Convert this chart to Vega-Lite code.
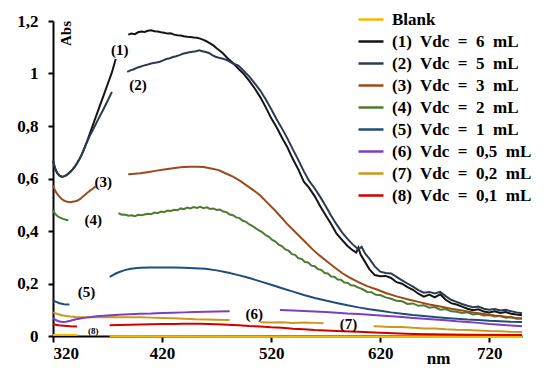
{
  "$schema": "https://vega.github.io/schema/vega-lite/v6.json",
  "autosize": "none",
  "width": 469,
  "height": 315,
  "padding": {"left": 53, "top": 21, "right": 22, "bottom": 35},
  "background": "white",
  "config": {
    "view": {"stroke": null},
    "font": "Liberation Serif, Times New Roman, DejaVu Serif, serif",
    "axis": {
      "grid": false,
      "domainColor": "black",
      "domainWidth": 2,
      "tickColor": "black",
      "tickWidth": 2,
      "labelFont": "Liberation Serif, Times New Roman, DejaVu Serif, serif",
      "labelFontWeight": "bold",
      "labelColor": "black",
      "titleFont": "Liberation Serif, Times New Roman, DejaVu Serif, serif",
      "titleFontWeight": "bold",
      "titleColor": "black",
      "zindex": 1
    },
    "legend": {
      "orient": "none",
      "legendX": 304,
      "legendY": -15.5,
      "symbolType": "stroke",
      "symbolSize": 625,
      "symbolStrokeWidth": 2.5,
      "labelFont": "Liberation Serif, Times New Roman, DejaVu Serif, serif",
      "labelFontWeight": "bold",
      "labelFontSize": 17,
      "labelColor": "black",
      "labelOffset": 7,
      "labelLimit": 300,
      "rowPadding": -4.1
    }
  },
  "layer": [
    {
      "data": {
        "values": [
          {"s": "0", "g": "a", "x": 320, "y": 0.004}, {"s": "0", "g": "a", "x": 342, "y": 0.004},
          {"s": "0", "g": "b", "x": 372, "y": -0.001}, {"s": "0", "g": "b", "x": 500, "y": -0.003}, {"s": "0", "g": "b", "x": 750, "y": -0.004},

          {"s": "8", "g": "a", "x": 320, "y": 0.045}, {"s": "8", "g": "a", "x": 325, "y": 0.041}, {"s": "8", "g": "a", "x": 330, "y": 0.039}, {"s": "8", "g": "a", "x": 336, "y": 0.037}, {"s": "8", "g": "a", "x": 342, "y": 0.036},
          {"s": "8", "g": "b", "x": 372, "y": 0.041}, {"s": "8", "g": "b", "x": 380, "y": 0.042}, {"s": "8", "g": "b", "x": 390, "y": 0.043}, {"s": "8", "g": "b", "x": 400, "y": 0.044}, {"s": "8", "g": "b", "x": 410, "y": 0.045}, {"s": "8", "g": "b", "x": 420, "y": 0.046}, {"s": "8", "g": "b", "x": 430, "y": 0.046}, {"s": "8", "g": "b", "x": 440, "y": 0.047}, {"s": "8", "g": "b", "x": 455, "y": 0.047}, {"s": "8", "g": "b", "x": 470, "y": 0.045}, {"s": "8", "g": "b", "x": 480, "y": 0.043}, {"s": "8", "g": "b", "x": 490, "y": 0.041}, {"s": "8", "g": "b", "x": 500, "y": 0.038}, {"s": "8", "g": "b", "x": 510, "y": 0.036}, {"s": "8", "g": "b", "x": 520, "y": 0.033}, {"s": "8", "g": "b", "x": 530, "y": 0.031}, {"s": "8", "g": "b", "x": 540, "y": 0.028}, {"s": "8", "g": "b", "x": 550, "y": 0.026}, {"s": "8", "g": "b", "x": 560, "y": 0.023}, {"s": "8", "g": "b", "x": 580, "y": 0.019}, {"s": "8", "g": "b", "x": 600, "y": 0.016}, {"s": "8", "g": "b", "x": 620, "y": 0.012}, {"s": "8", "g": "b", "x": 650, "y": 0.008}, {"s": "8", "g": "b", "x": 700, "y": 0.005}, {"s": "8", "g": "b", "x": 750, "y": 0.004},

          {"s": "7", "g": "a", "x": 320, "y": 0.09}, {"s": "7", "g": "a", "x": 324, "y": 0.084}, {"s": "7", "g": "a", "x": 328, "y": 0.079}, {"s": "7", "g": "a", "x": 332, "y": 0.076}, {"s": "7", "g": "a", "x": 336, "y": 0.074}, {"s": "7", "g": "a", "x": 341, "y": 0.072}, {"s": "7", "g": "a", "x": 350, "y": 0.071}, {"s": "7", "g": "a", "x": 360, "y": 0.071}, {"s": "7", "g": "a", "x": 370, "y": 0.072}, {"s": "7", "g": "a", "x": 380, "y": 0.071}, {"s": "7", "g": "a", "x": 390, "y": 0.071}, {"s": "7", "g": "a", "x": 400, "y": 0.071}, {"s": "7", "g": "a", "x": 410, "y": 0.07}, {"s": "7", "g": "a", "x": 420, "y": 0.069}, {"s": "7", "g": "a", "x": 430, "y": 0.068}, {"s": "7", "g": "a", "x": 440, "y": 0.066}, {"s": "7", "g": "a", "x": 450, "y": 0.064}, {"s": "7", "g": "a", "x": 460, "y": 0.063}, {"s": "7", "g": "a", "x": 470, "y": 0.062}, {"s": "7", "g": "a", "x": 482, "y": 0.061},
          {"s": "7", "g": "b", "x": 510, "y": 0.052}, {"s": "7", "g": "b", "x": 520, "y": 0.051}, {"s": "7", "g": "b", "x": 530, "y": 0.052}, {"s": "7", "g": "b", "x": 540, "y": 0.05}, {"s": "7", "g": "b", "x": 550, "y": 0.051}, {"s": "7", "g": "b", "x": 560, "y": 0.05}, {"s": "7", "g": "b", "x": 568, "y": 0.049},
          {"s": "7", "g": "c", "x": 614, "y": 0.037}, {"s": "7", "g": "c", "x": 620, "y": 0.036}, {"s": "7", "g": "c", "x": 630, "y": 0.034}, {"s": "7", "g": "c", "x": 640, "y": 0.034}, {"s": "7", "g": "c", "x": 650, "y": 0.031}, {"s": "7", "g": "c", "x": 660, "y": 0.029}, {"s": "7", "g": "c", "x": 670, "y": 0.029}, {"s": "7", "g": "c", "x": 680, "y": 0.026}, {"s": "7", "g": "c", "x": 690, "y": 0.024}, {"s": "7", "g": "c", "x": 700, "y": 0.023}, {"s": "7", "g": "c", "x": 710, "y": 0.021}, {"s": "7", "g": "c", "x": 720, "y": 0.019}, {"s": "7", "g": "c", "x": 730, "y": 0.018}, {"s": "7", "g": "c", "x": 740, "y": 0.016}, {"s": "7", "g": "c", "x": 750, "y": 0.015},

          {"s": "6", "g": "a", "x": 320, "y": 0.068}, {"s": "6", "g": "a", "x": 323, "y": 0.06}, {"s": "6", "g": "a", "x": 326, "y": 0.055}, {"s": "6", "g": "a", "x": 329, "y": 0.053}, {"s": "6", "g": "a", "x": 332, "y": 0.054}, {"s": "6", "g": "a", "x": 336, "y": 0.058}, {"s": "6", "g": "a", "x": 340, "y": 0.063}, {"s": "6", "g": "a", "x": 345, "y": 0.067}, {"s": "6", "g": "a", "x": 350, "y": 0.07}, {"s": "6", "g": "a", "x": 355, "y": 0.072}, {"s": "6", "g": "a", "x": 360, "y": 0.075}, {"s": "6", "g": "a", "x": 370, "y": 0.078}, {"s": "6", "g": "a", "x": 380, "y": 0.081}, {"s": "6", "g": "a", "x": 390, "y": 0.083}, {"s": "6", "g": "a", "x": 400, "y": 0.085}, {"s": "6", "g": "a", "x": 410, "y": 0.086}, {"s": "6", "g": "a", "x": 420, "y": 0.088}, {"s": "6", "g": "a", "x": 430, "y": 0.089}, {"s": "6", "g": "a", "x": 440, "y": 0.09}, {"s": "6", "g": "a", "x": 450, "y": 0.091}, {"s": "6", "g": "a", "x": 460, "y": 0.092}, {"s": "6", "g": "a", "x": 470, "y": 0.093}, {"s": "6", "g": "a", "x": 482, "y": 0.094},
          {"s": "6", "g": "b", "x": 528, "y": 0.099}, {"s": "6", "g": "b", "x": 540, "y": 0.097}, {"s": "6", "g": "b", "x": 550, "y": 0.095}, {"s": "6", "g": "b", "x": 560, "y": 0.093}, {"s": "6", "g": "b", "x": 570, "y": 0.091}, {"s": "6", "g": "b", "x": 580, "y": 0.089}, {"s": "6", "g": "b", "x": 590, "y": 0.086}, {"s": "6", "g": "b", "x": 600, "y": 0.084}, {"s": "6", "g": "b", "x": 610, "y": 0.081}, {"s": "6", "g": "b", "x": 620, "y": 0.078}, {"s": "6", "g": "b", "x": 630, "y": 0.075}, {"s": "6", "g": "b", "x": 640, "y": 0.072}, {"s": "6", "g": "b", "x": 650, "y": 0.069}, {"s": "6", "g": "b", "x": 660, "y": 0.066}, {"s": "6", "g": "b", "x": 670, "y": 0.063}, {"s": "6", "g": "b", "x": 680, "y": 0.06}, {"s": "6", "g": "b", "x": 690, "y": 0.056}, {"s": "6", "g": "b", "x": 700, "y": 0.053}, {"s": "6", "g": "b", "x": 710, "y": 0.05}, {"s": "6", "g": "b", "x": 720, "y": 0.046}, {"s": "6", "g": "b", "x": 730, "y": 0.043}, {"s": "6", "g": "b", "x": 740, "y": 0.04}, {"s": "6", "g": "b", "x": 750, "y": 0.037},

          {"s": "5", "g": "a", "x": 320, "y": 0.136}, {"s": "5", "g": "a", "x": 323, "y": 0.13}, {"s": "5", "g": "a", "x": 326, "y": 0.125}, {"s": "5", "g": "a", "x": 330, "y": 0.121}, {"s": "5", "g": "a", "x": 335, "y": 0.12},
          {"s": "5", "g": "b", "x": 372, "y": 0.225}, {"s": "5", "g": "b", "x": 375, "y": 0.232}, {"s": "5", "g": "b", "x": 378, "y": 0.239}, {"s": "5", "g": "b", "x": 381, "y": 0.244}, {"s": "5", "g": "b", "x": 385, "y": 0.25}, {"s": "5", "g": "b", "x": 390, "y": 0.255}, {"s": "5", "g": "b", "x": 395, "y": 0.258}, {"s": "5", "g": "b", "x": 400, "y": 0.26}, {"s": "5", "g": "b", "x": 410, "y": 0.261}, {"s": "5", "g": "b", "x": 420, "y": 0.261}, {"s": "5", "g": "b", "x": 430, "y": 0.261}, {"s": "5", "g": "b", "x": 440, "y": 0.26}, {"s": "5", "g": "b", "x": 450, "y": 0.258}, {"s": "5", "g": "b", "x": 460, "y": 0.256}, {"s": "5", "g": "b", "x": 470, "y": 0.25}, {"s": "5", "g": "b", "x": 480, "y": 0.242}, {"s": "5", "g": "b", "x": 490, "y": 0.232}, {"s": "5", "g": "b", "x": 500, "y": 0.221}, {"s": "5", "g": "b", "x": 510, "y": 0.208}, {"s": "5", "g": "b", "x": 520, "y": 0.195}, {"s": "5", "g": "b", "x": 530, "y": 0.182}, {"s": "5", "g": "b", "x": 540, "y": 0.169}, {"s": "5", "g": "b", "x": 550, "y": 0.156}, {"s": "5", "g": "b", "x": 560, "y": 0.145}, {"s": "5", "g": "b", "x": 570, "y": 0.135}, {"s": "5", "g": "b", "x": 580, "y": 0.126}, {"s": "5", "g": "b", "x": 590, "y": 0.117}, {"s": "5", "g": "b", "x": 600, "y": 0.109}, {"s": "5", "g": "b", "x": 610, "y": 0.102}, {"s": "5", "g": "b", "x": 620, "y": 0.096}, {"s": "5", "g": "b", "x": 630, "y": 0.09}, {"s": "5", "g": "b", "x": 640, "y": 0.085}, {"s": "5", "g": "b", "x": 650, "y": 0.08}, {"s": "5", "g": "b", "x": 660, "y": 0.076}, {"s": "5", "g": "b", "x": 670, "y": 0.072}, {"s": "5", "g": "b", "x": 680, "y": 0.069}, {"s": "5", "g": "b", "x": 690, "y": 0.066}, {"s": "5", "g": "b", "x": 700, "y": 0.063}, {"s": "5", "g": "b", "x": 710, "y": 0.061}, {"s": "5", "g": "b", "x": 720, "y": 0.058}, {"s": "5", "g": "b", "x": 730, "y": 0.056}, {"s": "5", "g": "b", "x": 740, "y": 0.054}, {"s": "5", "g": "b", "x": 750, "y": 0.053},

          {"s": "4", "g": "a", "x": 320, "y": 0.479}, {"s": "4", "g": "a", "x": 322, "y": 0.465}, {"s": "4", "g": "a", "x": 324, "y": 0.457}, {"s": "4", "g": "a", "x": 326, "y": 0.452}, {"s": "4", "g": "a", "x": 329, "y": 0.446}, {"s": "4", "g": "a", "x": 332, "y": 0.443}, {"s": "4", "g": "a", "x": 334, "y": 0.441},
          {"s": "4", "g": "b", "x": 380, "y": 0.468}, {"s": "4", "g": "b", "x": 383, "y": 0.462}, {"s": "4", "g": "b", "x": 386, "y": 0.463}, {"s": "4", "g": "b", "x": 389, "y": 0.458}, {"s": "4", "g": "b", "x": 392, "y": 0.46}, {"s": "4", "g": "b", "x": 395, "y": 0.456}, {"s": "4", "g": "b", "x": 398, "y": 0.462}, {"s": "4", "g": "b", "x": 401, "y": 0.46}, {"s": "4", "g": "b", "x": 404, "y": 0.463}, {"s": "4", "g": "b", "x": 407, "y": 0.466}, {"s": "4", "g": "b", "x": 410, "y": 0.464}, {"s": "4", "g": "b", "x": 413, "y": 0.47}, {"s": "4", "g": "b", "x": 416, "y": 0.468}, {"s": "4", "g": "b", "x": 419, "y": 0.474}, {"s": "4", "g": "b", "x": 422, "y": 0.472}, {"s": "4", "g": "b", "x": 425, "y": 0.478}, {"s": "4", "g": "b", "x": 428, "y": 0.476}, {"s": "4", "g": "b", "x": 431, "y": 0.481}, {"s": "4", "g": "b", "x": 434, "y": 0.479}, {"s": "4", "g": "b", "x": 437, "y": 0.486}, {"s": "4", "g": "b", "x": 440, "y": 0.483}, {"s": "4", "g": "b", "x": 443, "y": 0.489}, {"s": "4", "g": "b", "x": 446, "y": 0.486}, {"s": "4", "g": "b", "x": 449, "y": 0.491}, {"s": "4", "g": "b", "x": 452, "y": 0.488}, {"s": "4", "g": "b", "x": 455, "y": 0.492}, {"s": "4", "g": "b", "x": 458, "y": 0.487}, {"s": "4", "g": "b", "x": 461, "y": 0.49}, {"s": "4", "g": "b", "x": 464, "y": 0.484}, {"s": "4", "g": "b", "x": 467, "y": 0.486}, {"s": "4", "g": "b", "x": 470, "y": 0.48}, {"s": "4", "g": "b", "x": 473, "y": 0.482}, {"s": "4", "g": "b", "x": 476, "y": 0.474}, {"s": "4", "g": "b", "x": 479, "y": 0.472}, {"s": "4", "g": "b", "x": 482, "y": 0.463}, {"s": "4", "g": "b", "x": 485, "y": 0.46}, {"s": "4", "g": "b", "x": 488, "y": 0.452}, {"s": "4", "g": "b", "x": 491, "y": 0.449}, {"s": "4", "g": "b", "x": 494, "y": 0.439}, {"s": "4", "g": "b", "x": 497, "y": 0.435}, {"s": "4", "g": "b", "x": 500, "y": 0.425}, {"s": "4", "g": "b", "x": 503, "y": 0.419}, {"s": "4", "g": "b", "x": 506, "y": 0.41}, {"s": "4", "g": "b", "x": 509, "y": 0.402}, {"s": "4", "g": "b", "x": 512, "y": 0.395}, {"s": "4", "g": "b", "x": 515, "y": 0.384}, {"s": "4", "g": "b", "x": 518, "y": 0.378}, {"s": "4", "g": "b", "x": 521, "y": 0.366}, {"s": "4", "g": "b", "x": 524, "y": 0.36}, {"s": "4", "g": "b", "x": 527, "y": 0.348}, {"s": "4", "g": "b", "x": 530, "y": 0.342}, {"s": "4", "g": "b", "x": 533, "y": 0.33}, {"s": "4", "g": "b", "x": 536, "y": 0.325}, {"s": "4", "g": "b", "x": 539, "y": 0.312}, {"s": "4", "g": "b", "x": 542, "y": 0.309}, {"s": "4", "g": "b", "x": 545, "y": 0.296}, {"s": "4", "g": "b", "x": 548, "y": 0.294}, {"s": "4", "g": "b", "x": 551, "y": 0.282}, {"s": "4", "g": "b", "x": 554, "y": 0.28}, {"s": "4", "g": "b", "x": 557, "y": 0.268}, {"s": "4", "g": "b", "x": 560, "y": 0.266}, {"s": "4", "g": "b", "x": 563, "y": 0.254}, {"s": "4", "g": "b", "x": 566, "y": 0.252}, {"s": "4", "g": "b", "x": 569, "y": 0.24}, {"s": "4", "g": "b", "x": 572, "y": 0.238}, {"s": "4", "g": "b", "x": 575, "y": 0.227}, {"s": "4", "g": "b", "x": 578, "y": 0.226}, {"s": "4", "g": "b", "x": 581, "y": 0.215}, {"s": "4", "g": "b", "x": 584, "y": 0.214}, {"s": "4", "g": "b", "x": 587, "y": 0.204}, {"s": "4", "g": "b", "x": 590, "y": 0.203}, {"s": "4", "g": "b", "x": 593, "y": 0.193}, {"s": "4", "g": "b", "x": 596, "y": 0.192}, {"s": "4", "g": "b", "x": 600, "y": 0.184}, {"s": "4", "g": "b", "x": 604, "y": 0.178}, {"s": "4", "g": "b", "x": 608, "y": 0.168}, {"s": "4", "g": "b", "x": 612, "y": 0.167}, {"s": "4", "g": "b", "x": 616, "y": 0.157}, {"s": "4", "g": "b", "x": 620, "y": 0.156}, {"s": "4", "g": "b", "x": 625, "y": 0.147}, {"s": "4", "g": "b", "x": 630, "y": 0.142}, {"s": "4", "g": "b", "x": 635, "y": 0.134}, {"s": "4", "g": "b", "x": 640, "y": 0.132}, {"s": "4", "g": "b", "x": 645, "y": 0.122}, {"s": "4", "g": "b", "x": 650, "y": 0.124}, {"s": "4", "g": "b", "x": 655, "y": 0.115}, {"s": "4", "g": "b", "x": 660, "y": 0.117}, {"s": "4", "g": "b", "x": 665, "y": 0.108}, {"s": "4", "g": "b", "x": 670, "y": 0.11}, {"s": "4", "g": "b", "x": 675, "y": 0.1}, {"s": "4", "g": "b", "x": 680, "y": 0.103}, {"s": "4", "g": "b", "x": 685, "y": 0.094}, {"s": "4", "g": "b", "x": 690, "y": 0.092}, {"s": "4", "g": "b", "x": 695, "y": 0.088}, {"s": "4", "g": "b", "x": 700, "y": 0.09}, {"s": "4", "g": "b", "x": 705, "y": 0.082}, {"s": "4", "g": "b", "x": 710, "y": 0.085}, {"s": "4", "g": "b", "x": 715, "y": 0.078}, {"s": "4", "g": "b", "x": 720, "y": 0.08}, {"s": "4", "g": "b", "x": 725, "y": 0.074}, {"s": "4", "g": "b", "x": 730, "y": 0.077}, {"s": "4", "g": "b", "x": 735, "y": 0.07}, {"s": "4", "g": "b", "x": 740, "y": 0.072}, {"s": "4", "g": "b", "x": 745, "y": 0.066}, {"s": "4", "g": "b", "x": 750, "y": 0.068},

          {"s": "3", "g": "a", "x": 320, "y": 0.574}, {"s": "3", "g": "a", "x": 322, "y": 0.553}, {"s": "3", "g": "a", "x": 324, "y": 0.54}, {"s": "3", "g": "a", "x": 326, "y": 0.53}, {"s": "3", "g": "a", "x": 328, "y": 0.522}, {"s": "3", "g": "a", "x": 330, "y": 0.516}, {"s": "3", "g": "a", "x": 333, "y": 0.511}, {"s": "3", "g": "a", "x": 336, "y": 0.51}, {"s": "3", "g": "a", "x": 339, "y": 0.512}, {"s": "3", "g": "a", "x": 342, "y": 0.515}, {"s": "3", "g": "a", "x": 345, "y": 0.522}, {"s": "3", "g": "a", "x": 348, "y": 0.533}, {"s": "3", "g": "a", "x": 351, "y": 0.544}, {"s": "3", "g": "a", "x": 354, "y": 0.554}, {"s": "3", "g": "a", "x": 357, "y": 0.563}, {"s": "3", "g": "a", "x": 359, "y": 0.57},
          {"s": "3", "g": "b", "x": 389, "y": 0.616}, {"s": "3", "g": "b", "x": 395, "y": 0.618}, {"s": "3", "g": "b", "x": 400, "y": 0.62}, {"s": "3", "g": "b", "x": 408, "y": 0.625}, {"s": "3", "g": "b", "x": 415, "y": 0.63}, {"s": "3", "g": "b", "x": 422, "y": 0.634}, {"s": "3", "g": "b", "x": 430, "y": 0.639}, {"s": "3", "g": "b", "x": 437, "y": 0.643}, {"s": "3", "g": "b", "x": 445, "y": 0.645}, {"s": "3", "g": "b", "x": 452, "y": 0.645}, {"s": "3", "g": "b", "x": 458, "y": 0.644}, {"s": "3", "g": "b", "x": 465, "y": 0.638}, {"s": "3", "g": "b", "x": 472, "y": 0.632}, {"s": "3", "g": "b", "x": 478, "y": 0.62}, {"s": "3", "g": "b", "x": 485, "y": 0.607}, {"s": "3", "g": "b", "x": 492, "y": 0.59}, {"s": "3", "g": "b", "x": 498, "y": 0.572}, {"s": "3", "g": "b", "x": 504, "y": 0.555}, {"s": "3", "g": "b", "x": 510, "y": 0.535}, {"s": "3", "g": "b", "x": 516, "y": 0.51}, {"s": "3", "g": "b", "x": 522, "y": 0.485}, {"s": "3", "g": "b", "x": 528, "y": 0.458}, {"s": "3", "g": "b", "x": 534, "y": 0.43}, {"s": "3", "g": "b", "x": 540, "y": 0.405}, {"s": "3", "g": "b", "x": 546, "y": 0.38}, {"s": "3", "g": "b", "x": 552, "y": 0.355}, {"s": "3", "g": "b", "x": 558, "y": 0.33}, {"s": "3", "g": "b", "x": 564, "y": 0.308}, {"s": "3", "g": "b", "x": 571, "y": 0.285}, {"s": "3", "g": "b", "x": 578, "y": 0.262}, {"s": "3", "g": "b", "x": 585, "y": 0.24}, {"s": "3", "g": "b", "x": 592, "y": 0.222}, {"s": "3", "g": "b", "x": 600, "y": 0.205}, {"s": "3", "g": "b", "x": 608, "y": 0.19}, {"s": "3", "g": "b", "x": 617, "y": 0.177}, {"s": "3", "g": "b", "x": 625, "y": 0.164}, {"s": "3", "g": "b", "x": 635, "y": 0.151}, {"s": "3", "g": "b", "x": 645, "y": 0.14}, {"s": "3", "g": "b", "x": 655, "y": 0.13}, {"s": "3", "g": "b", "x": 665, "y": 0.12}, {"s": "3", "g": "b", "x": 675, "y": 0.112}, {"s": "3", "g": "b", "x": 685, "y": 0.104}, {"s": "3", "g": "b", "x": 695, "y": 0.097}, {"s": "3", "g": "b", "x": 705, "y": 0.09}, {"s": "3", "g": "b", "x": 715, "y": 0.084}, {"s": "3", "g": "b", "x": 725, "y": 0.078}, {"s": "3", "g": "b", "x": 735, "y": 0.073}, {"s": "3", "g": "b", "x": 750, "y": 0.066},

          {"s": "1", "g": "a", "x": 320, "y": 0.668}, {"s": "1", "g": "a", "x": 322, "y": 0.637}, {"s": "1", "g": "a", "x": 324, "y": 0.62}, {"s": "1", "g": "a", "x": 326, "y": 0.611}, {"s": "1", "g": "a", "x": 328, "y": 0.607}, {"s": "1", "g": "a", "x": 330, "y": 0.608}, {"s": "1", "g": "a", "x": 332, "y": 0.612}, {"s": "1", "g": "a", "x": 334, "y": 0.618}, {"s": "1", "g": "a", "x": 336, "y": 0.626}, {"s": "1", "g": "a", "x": 338, "y": 0.635}, {"s": "1", "g": "a", "x": 340, "y": 0.645}, {"s": "1", "g": "a", "x": 342, "y": 0.658}, {"s": "1", "g": "a", "x": 344, "y": 0.672}, {"s": "1", "g": "a", "x": 346, "y": 0.688}, {"s": "1", "g": "a", "x": 348, "y": 0.707}, {"s": "1", "g": "a", "x": 350, "y": 0.728}, {"s": "1", "g": "a", "x": 352, "y": 0.75}, {"s": "1", "g": "a", "x": 355, "y": 0.785}, {"s": "1", "g": "a", "x": 358, "y": 0.82}, {"s": "1", "g": "a", "x": 362, "y": 0.866}, {"s": "1", "g": "a", "x": 366, "y": 0.912}, {"s": "1", "g": "a", "x": 370, "y": 0.958}, {"s": "1", "g": "a", "x": 374, "y": 1.004}, {"s": "1", "g": "a", "x": 377.5, "y": 1.055},
          {"s": "1", "g": "b", "x": 389, "y": 1.148}, {"s": "1", "g": "b", "x": 392, "y": 1.152}, {"s": "1", "g": "b", "x": 395, "y": 1.15}, {"s": "1", "g": "b", "x": 398, "y": 1.157}, {"s": "1", "g": "b", "x": 401, "y": 1.16}, {"s": "1", "g": "b", "x": 404, "y": 1.158}, {"s": "1", "g": "b", "x": 407, "y": 1.163}, {"s": "1", "g": "b", "x": 410, "y": 1.165}, {"s": "1", "g": "b", "x": 413, "y": 1.161}, {"s": "1", "g": "b", "x": 416, "y": 1.16}, {"s": "1", "g": "b", "x": 419, "y": 1.157}, {"s": "1", "g": "b", "x": 422, "y": 1.155}, {"s": "1", "g": "b", "x": 425, "y": 1.152}, {"s": "1", "g": "b", "x": 428, "y": 1.153}, {"s": "1", "g": "b", "x": 431, "y": 1.148}, {"s": "1", "g": "b", "x": 434, "y": 1.146}, {"s": "1", "g": "b", "x": 437, "y": 1.145}, {"s": "1", "g": "b", "x": 440, "y": 1.142}, {"s": "1", "g": "b", "x": 443, "y": 1.14}, {"s": "1", "g": "b", "x": 446, "y": 1.139}, {"s": "1", "g": "b", "x": 449, "y": 1.137}, {"s": "1", "g": "b", "x": 452, "y": 1.136}, {"s": "1", "g": "b", "x": 455, "y": 1.133}, {"s": "1", "g": "b", "x": 458, "y": 1.128}, {"s": "1", "g": "b", "x": 461, "y": 1.122}, {"s": "1", "g": "b", "x": 464, "y": 1.115}, {"s": "1", "g": "b", "x": 467, "y": 1.107}, {"s": "1", "g": "b", "x": 470, "y": 1.096}, {"s": "1", "g": "b", "x": 473, "y": 1.087}, {"s": "1", "g": "b", "x": 476, "y": 1.076}, {"s": "1", "g": "b", "x": 480, "y": 1.058}, {"s": "1", "g": "b", "x": 485, "y": 1.04}, {"s": "1", "g": "b", "x": 490, "y": 1.018}, {"s": "1", "g": "b", "x": 495, "y": 0.998}, {"s": "1", "g": "b", "x": 500, "y": 0.972}, {"s": "1", "g": "b", "x": 505, "y": 0.943}, {"s": "1", "g": "b", "x": 510, "y": 0.91}, {"s": "1", "g": "b", "x": 515, "y": 0.872}, {"s": "1", "g": "b", "x": 520, "y": 0.83}, {"s": "1", "g": "b", "x": 525, "y": 0.795}, {"s": "1", "g": "b", "x": 530, "y": 0.755}, {"s": "1", "g": "b", "x": 535, "y": 0.718}, {"s": "1", "g": "b", "x": 540, "y": 0.673}, {"s": "1", "g": "b", "x": 545, "y": 0.634}, {"s": "1", "g": "b", "x": 550, "y": 0.588}, {"s": "1", "g": "b", "x": 555, "y": 0.563}, {"s": "1", "g": "b", "x": 560, "y": 0.532}, {"s": "1", "g": "b", "x": 565, "y": 0.494}, {"s": "1", "g": "b", "x": 570, "y": 0.46}, {"s": "1", "g": "b", "x": 575, "y": 0.427}, {"s": "1", "g": "b", "x": 580, "y": 0.39}, {"s": "1", "g": "b", "x": 585, "y": 0.366}, {"s": "1", "g": "b", "x": 590, "y": 0.343}, {"s": "1", "g": "b", "x": 595, "y": 0.326}, {"s": "1", "g": "b", "x": 598, "y": 0.318}, {"s": "1", "g": "b", "x": 600, "y": 0.336}, {"s": "1", "g": "b", "x": 602, "y": 0.31}, {"s": "1", "g": "b", "x": 605, "y": 0.29}, {"s": "1", "g": "b", "x": 610, "y": 0.255}, {"s": "1", "g": "b", "x": 615, "y": 0.232}, {"s": "1", "g": "b", "x": 620, "y": 0.228}, {"s": "1", "g": "b", "x": 625, "y": 0.229}, {"s": "1", "g": "b", "x": 630, "y": 0.221}, {"s": "1", "g": "b", "x": 635, "y": 0.205}, {"s": "1", "g": "b", "x": 640, "y": 0.199}, {"s": "1", "g": "b", "x": 645, "y": 0.186}, {"s": "1", "g": "b", "x": 650, "y": 0.176}, {"s": "1", "g": "b", "x": 655, "y": 0.161}, {"s": "1", "g": "b", "x": 660, "y": 0.15}, {"s": "1", "g": "b", "x": 665, "y": 0.158}, {"s": "1", "g": "b", "x": 670, "y": 0.147}, {"s": "1", "g": "b", "x": 675, "y": 0.159}, {"s": "1", "g": "b", "x": 680, "y": 0.138}, {"s": "1", "g": "b", "x": 685, "y": 0.125}, {"s": "1", "g": "b", "x": 690, "y": 0.12}, {"s": "1", "g": "b", "x": 695, "y": 0.112}, {"s": "1", "g": "b", "x": 700, "y": 0.104}, {"s": "1", "g": "b", "x": 705, "y": 0.098}, {"s": "1", "g": "b", "x": 710, "y": 0.102}, {"s": "1", "g": "b", "x": 715, "y": 0.093}, {"s": "1", "g": "b", "x": 720, "y": 0.09}, {"s": "1", "g": "b", "x": 725, "y": 0.094}, {"s": "1", "g": "b", "x": 730, "y": 0.088}, {"s": "1", "g": "b", "x": 735, "y": 0.091}, {"s": "1", "g": "b", "x": 740, "y": 0.085}, {"s": "1", "g": "b", "x": 745, "y": 0.082}, {"s": "1", "g": "b", "x": 750, "y": 0.079},

          {"s": "2", "g": "a", "x": 320, "y": 0.668}, {"s": "2", "g": "a", "x": 322, "y": 0.637}, {"s": "2", "g": "a", "x": 324, "y": 0.62}, {"s": "2", "g": "a", "x": 326, "y": 0.611}, {"s": "2", "g": "a", "x": 328, "y": 0.607}, {"s": "2", "g": "a", "x": 330, "y": 0.608}, {"s": "2", "g": "a", "x": 332, "y": 0.612}, {"s": "2", "g": "a", "x": 334, "y": 0.618}, {"s": "2", "g": "a", "x": 336, "y": 0.626}, {"s": "2", "g": "a", "x": 338, "y": 0.635}, {"s": "2", "g": "a", "x": 340, "y": 0.645}, {"s": "2", "g": "a", "x": 342, "y": 0.658}, {"s": "2", "g": "a", "x": 344, "y": 0.672}, {"s": "2", "g": "a", "x": 346, "y": 0.688}, {"s": "2", "g": "a", "x": 348, "y": 0.707}, {"s": "2", "g": "a", "x": 350, "y": 0.728}, {"s": "2", "g": "a", "x": 354, "y": 0.765}, {"s": "2", "g": "a", "x": 358, "y": 0.797}, {"s": "2", "g": "a", "x": 362, "y": 0.83}, {"s": "2", "g": "a", "x": 366, "y": 0.862}, {"s": "2", "g": "a", "x": 370, "y": 0.895}, {"s": "2", "g": "a", "x": 374, "y": 0.93},
          {"s": "2", "g": "b", "x": 388, "y": 1.006}, {"s": "2", "g": "b", "x": 391, "y": 1.012}, {"s": "2", "g": "b", "x": 394, "y": 1.016}, {"s": "2", "g": "b", "x": 397, "y": 1.022}, {"s": "2", "g": "b", "x": 400, "y": 1.026}, {"s": "2", "g": "b", "x": 403, "y": 1.03}, {"s": "2", "g": "b", "x": 406, "y": 1.033}, {"s": "2", "g": "b", "x": 409, "y": 1.037}, {"s": "2", "g": "b", "x": 412, "y": 1.04}, {"s": "2", "g": "b", "x": 415, "y": 1.042}, {"s": "2", "g": "b", "x": 418, "y": 1.045}, {"s": "2", "g": "b", "x": 421, "y": 1.05}, {"s": "2", "g": "b", "x": 424, "y": 1.055}, {"s": "2", "g": "b", "x": 427, "y": 1.058}, {"s": "2", "g": "b", "x": 430, "y": 1.063}, {"s": "2", "g": "b", "x": 433, "y": 1.066}, {"s": "2", "g": "b", "x": 436, "y": 1.07}, {"s": "2", "g": "b", "x": 439, "y": 1.075}, {"s": "2", "g": "b", "x": 442, "y": 1.078}, {"s": "2", "g": "b", "x": 445, "y": 1.081}, {"s": "2", "g": "b", "x": 448, "y": 1.083}, {"s": "2", "g": "b", "x": 451, "y": 1.085}, {"s": "2", "g": "b", "x": 454, "y": 1.088}, {"s": "2", "g": "b", "x": 457, "y": 1.085}, {"s": "2", "g": "b", "x": 460, "y": 1.082}, {"s": "2", "g": "b", "x": 463, "y": 1.078}, {"s": "2", "g": "b", "x": 466, "y": 1.07}, {"s": "2", "g": "b", "x": 469, "y": 1.064}, {"s": "2", "g": "b", "x": 472, "y": 1.06}, {"s": "2", "g": "b", "x": 476, "y": 1.056}, {"s": "2", "g": "b", "x": 480, "y": 1.05}, {"s": "2", "g": "b", "x": 485, "y": 1.038}, {"s": "2", "g": "b", "x": 490, "y": 1.03}, {"s": "2", "g": "b", "x": 495, "y": 1.01}, {"s": "2", "g": "b", "x": 500, "y": 0.988}, {"s": "2", "g": "b", "x": 505, "y": 0.962}, {"s": "2", "g": "b", "x": 510, "y": 0.935}, {"s": "2", "g": "b", "x": 515, "y": 0.902}, {"s": "2", "g": "b", "x": 520, "y": 0.865}, {"s": "2", "g": "b", "x": 525, "y": 0.826}, {"s": "2", "g": "b", "x": 530, "y": 0.79}, {"s": "2", "g": "b", "x": 535, "y": 0.752}, {"s": "2", "g": "b", "x": 540, "y": 0.71}, {"s": "2", "g": "b", "x": 545, "y": 0.67}, {"s": "2", "g": "b", "x": 550, "y": 0.627}, {"s": "2", "g": "b", "x": 555, "y": 0.59}, {"s": "2", "g": "b", "x": 560, "y": 0.562}, {"s": "2", "g": "b", "x": 565, "y": 0.53}, {"s": "2", "g": "b", "x": 570, "y": 0.495}, {"s": "2", "g": "b", "x": 575, "y": 0.458}, {"s": "2", "g": "b", "x": 580, "y": 0.425}, {"s": "2", "g": "b", "x": 585, "y": 0.395}, {"s": "2", "g": "b", "x": 590, "y": 0.37}, {"s": "2", "g": "b", "x": 595, "y": 0.348}, {"s": "2", "g": "b", "x": 600, "y": 0.33}, {"s": "2", "g": "b", "x": 603, "y": 0.34}, {"s": "2", "g": "b", "x": 606, "y": 0.315}, {"s": "2", "g": "b", "x": 610, "y": 0.295}, {"s": "2", "g": "b", "x": 615, "y": 0.265}, {"s": "2", "g": "b", "x": 620, "y": 0.245}, {"s": "2", "g": "b", "x": 625, "y": 0.24}, {"s": "2", "g": "b", "x": 630, "y": 0.238}, {"s": "2", "g": "b", "x": 635, "y": 0.225}, {"s": "2", "g": "b", "x": 640, "y": 0.212}, {"s": "2", "g": "b", "x": 645, "y": 0.2}, {"s": "2", "g": "b", "x": 650, "y": 0.188}, {"s": "2", "g": "b", "x": 655, "y": 0.175}, {"s": "2", "g": "b", "x": 660, "y": 0.165}, {"s": "2", "g": "b", "x": 665, "y": 0.168}, {"s": "2", "g": "b", "x": 670, "y": 0.162}, {"s": "2", "g": "b", "x": 675, "y": 0.168}, {"s": "2", "g": "b", "x": 680, "y": 0.152}, {"s": "2", "g": "b", "x": 685, "y": 0.138}, {"s": "2", "g": "b", "x": 690, "y": 0.13}, {"s": "2", "g": "b", "x": 695, "y": 0.122}, {"s": "2", "g": "b", "x": 700, "y": 0.115}, {"s": "2", "g": "b", "x": 705, "y": 0.11}, {"s": "2", "g": "b", "x": 710, "y": 0.112}, {"s": "2", "g": "b", "x": 715, "y": 0.104}, {"s": "2", "g": "b", "x": 720, "y": 0.1}, {"s": "2", "g": "b", "x": 725, "y": 0.103}, {"s": "2", "g": "b", "x": 730, "y": 0.097}, {"s": "2", "g": "b", "x": 735, "y": 0.1}, {"s": "2", "g": "b", "x": 740, "y": 0.094}, {"s": "2", "g": "b", "x": 745, "y": 0.09}, {"s": "2", "g": "b", "x": 750, "y": 0.087}
        ]
      },
      "mark": {"type": "line", "strokeWidth": 2, "interpolate": "linear"},
      "encoding": {
        "x": {
          "field": "x",
          "type": "quantitative",
          "scale": {"domain": [320, 750], "nice": false, "zero": false},
          "axis": {
            "values": [320, 420, 520, 620, 720],
            "title": "nm",
            "titleX": 385,
            "titleY": 22,
            "titleAlign": "center",
            "titleBaseline": "middle",
            "titleFontSize": 17,
            "labelFontSize": 17,
            "tickSize": 6,
            "labelPadding": 3
          }
        },
        "y": {
          "field": "y",
          "type": "quantitative",
          "scale": {"domain": [0, 1.2], "nice": false},
          "axis": {
            "values": [0, 0.2, 0.4, 0.6, 0.8, 1, 1.2],
            "labelExpr": "replace(format(datum.value, '.1~f'), '.', ',')",
            "title": "Abs",
            "titleAngle": -90,
            "titleX": 12,
            "titleY": 12,
            "titleAlign": "center",
            "titleBaseline": "middle",
            "titleFontSize": 15,
            "labelFontSize": 17,
            "tickSize": 5,
            "labelPadding": 10
          }
        },
        "color": {
          "field": "s",
          "type": "nominal",
          "scale": {
            "domain": ["0", "1", "2", "3", "4", "5", "6", "7", "8"],
            "range": ["#F5B800", "#141414", "#2E3B4E", "#9C4A1B", "#4E7A30", "#1F4E79", "#7E3FBF", "#CC9A1A", "#D00000"]
          },
          "legend": {
            "title": null,
            "labelExpr": "['Blank', '(1)\u00a0 Vdc\u00a0 =\u00a0 6\u00a0 mL', '(2)\u00a0 Vdc\u00a0 =\u00a0 5\u00a0 mL', '(3)\u00a0 Vdc\u00a0 =\u00a0 3\u00a0 mL', '(4)\u00a0 Vdc\u00a0 =\u00a0 2\u00a0 mL', '(5)\u00a0 Vdc\u00a0 =\u00a0 1\u00a0 mL', '(6)\u00a0 Vdc\u00a0 =\u00a0 0,5\u00a0 mL', '(7)\u00a0 Vdc\u00a0 =\u00a0 0,2\u00a0 mL', '(8)\u00a0 Vdc\u00a0 =\u00a0 0,1\u00a0 mL'][toNumber(datum.label)]"
          }
        },
        "detail": {"field": "g"}
      }
    },
    {
      "data": {
        "values": [
          {"label": "(1)", "x": 381.3, "y": 1.088},
          {"label": "(2)", "x": 398, "y": 0.955},
          {"label": "(3)", "x": 366, "y": 0.587},
          {"label": "(4)", "x": 356.8, "y": 0.443},
          {"label": "(5)", "x": 350.7, "y": 0.168},
          {"label": "(6)", "x": 504.5, "y": 0.085},
          {"label": "(7)", "x": 591, "y": 0.047},
          {"label": "(8)", "x": 356.8, "y": 0.019}
        ]
      },
      "mark": {"type": "text", "font": "Liberation Serif, Times New Roman, DejaVu Serif, serif", "fontWeight": "bold", "color": "black", "align": "center", "baseline": "middle"},
      "encoding": {
        "x": {"field": "x", "type": "quantitative"},
        "y": {"field": "y", "type": "quantitative"},
        "text": {"field": "label"},
        "size": {"condition": {"test": "datum.label === '(8)'", "value": 9}, "value": 15}
      }
    }
  ]
}
